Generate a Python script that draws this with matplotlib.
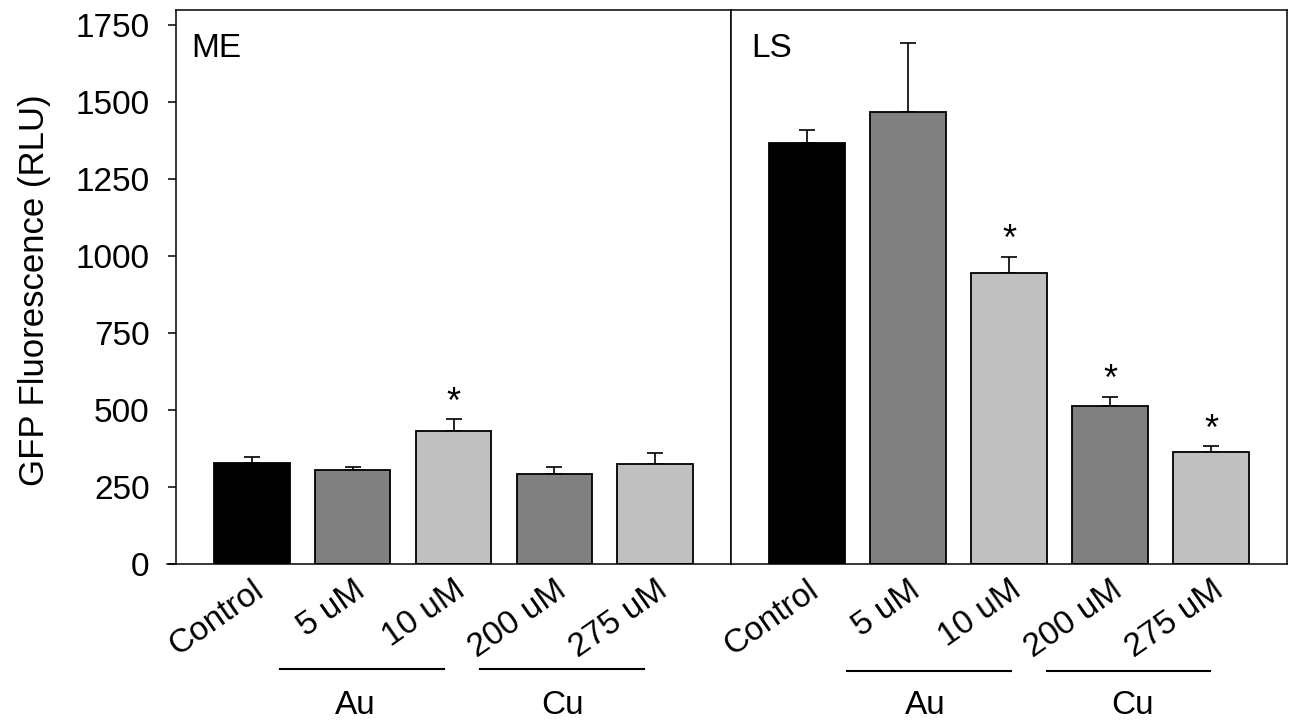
import matplotlib
matplotlib.use("Agg")
import matplotlib.pyplot as plt
import matplotlib.transforms as mtransforms
import numpy as np

plt.rcParams['font.family'] = ['Liberation Sans', 'DejaVu Sans']

categories = ["Control", "5 uM", "10 uM", "200 uM", "275 uM"]
me_values = [325, 304, 430, 292, 323]
me_errors = [22, 10, 39, 22, 35]
me_sig = [False, False, True, False, False]
ls_values = [1366, 1467, 943, 511, 363]
ls_errors = [41, 223, 54, 31, 19]
ls_sig = [False, False, True, True, True]
bar_colors = ["#000000", "#808080", "#c0c0c0", "#808080", "#c0c0c0"]
yticks = [0, 250, 500, 750, 1000, 1250, 1500, 1750]
panel_names = ["ME", "LS"]
groups = ["Au", "Cu"]

FS = 24
W, H = 1293, 721
fig = plt.figure(figsize=(W / 100, H / 100), dpi=100)

def fx(px):
    return px / W

def fy(py):
    return 1 - py / H

ax_l = fig.add_axes([fx(176), fy(563.5), fx(731) - fx(176), fy(10) - fy(563.5)])
ax_r = fig.add_axes([fx(731), fy(563.5), fx(1287) - fx(731), fy(10) - fy(563.5)], sharey=ax_l)

# group line / label positions in data units (per panel)
group_layout = {
    0: dict(lines=[(0.28, 1.906), (2.263, 3.888)], texts=[1.024, 3.076], ly=-0.19, ty=-0.257, name_x=0.027),
    1: dict(lines=[(0.397, 2.02), (2.376, 3.988)], texts=[1.177, 3.221], ly=-0.194, ty=-0.257, name_x=0.037),
}

x = np.arange(len(categories))
for i, (ax, vals, errs, sig) in enumerate([(ax_l, me_values, me_errors, me_sig),
                                           (ax_r, ls_values, ls_errors, ls_sig)]):
    ax.bar(x, vals, width=0.75, color=bar_colors, edgecolor="black", linewidth=1.3, zorder=2)
    ax.errorbar(x, vals, yerr=[np.zeros(len(errs)), errs], fmt="none", ecolor="black",
                elinewidth=1.2, capsize=6, capthick=1.2, zorder=1)
    for xi, v, e, s in zip(x, vals, errs, sig):
        if s:
            ax.annotate("*", xy=(xi, v + e), xytext=(0, 4.5), textcoords="offset points",
                        ha="center", va="baseline", fontsize=26)
    ax.set_xlim(-0.75, 4.75)
    ax.set_ylim(0, 1798)
    for sp in ax.spines.values():
        sp.set_linewidth(1.1)
    ax.set_xticks(x)
    ax.set_xticklabels(categories, rotation=35, ha="right", va="top",
                       rotation_mode="anchor", fontsize=FS)
    ax.tick_params(axis="x", length=0, pad=8)
    lay = group_layout[i]
    trans = mtransforms.blended_transform_factory(ax.transData, ax.transAxes)
    for (a, b), tx, g in zip(lay["lines"], lay["texts"], groups):
        ax.plot([a, b], [lay["ly"], lay["ly"]], color="black", lw=1.5, transform=trans, clip_on=False)
        ax.text(tx, lay["ty"], g, transform=trans, ha="center", va="center", fontsize=FS)
    ax.text(lay["name_x"], 0.958, panel_names[i], transform=ax.transAxes, ha="left", va="top", fontsize=FS)

ax_l.set_yticks(yticks)
ax_l.set_yticklabels([str(t) for t in yticks], fontsize=FS)
ax_l.tick_params(axis="y", direction="out", length=6, width=1.1, pad=13)
ax_r.tick_params(axis="y", left=False, labelleft=False)
ax_l.plot([-0.016, 0], [0, 0], color="black", lw=1.1, transform=ax_l.transAxes, clip_on=False)

fig.text(fx(35), fy(290), "GFP Fluorescence (RLU)", rotation=90, ha="center", va="center", fontsize=25)

fig.savefig("out.png", dpi=100)
